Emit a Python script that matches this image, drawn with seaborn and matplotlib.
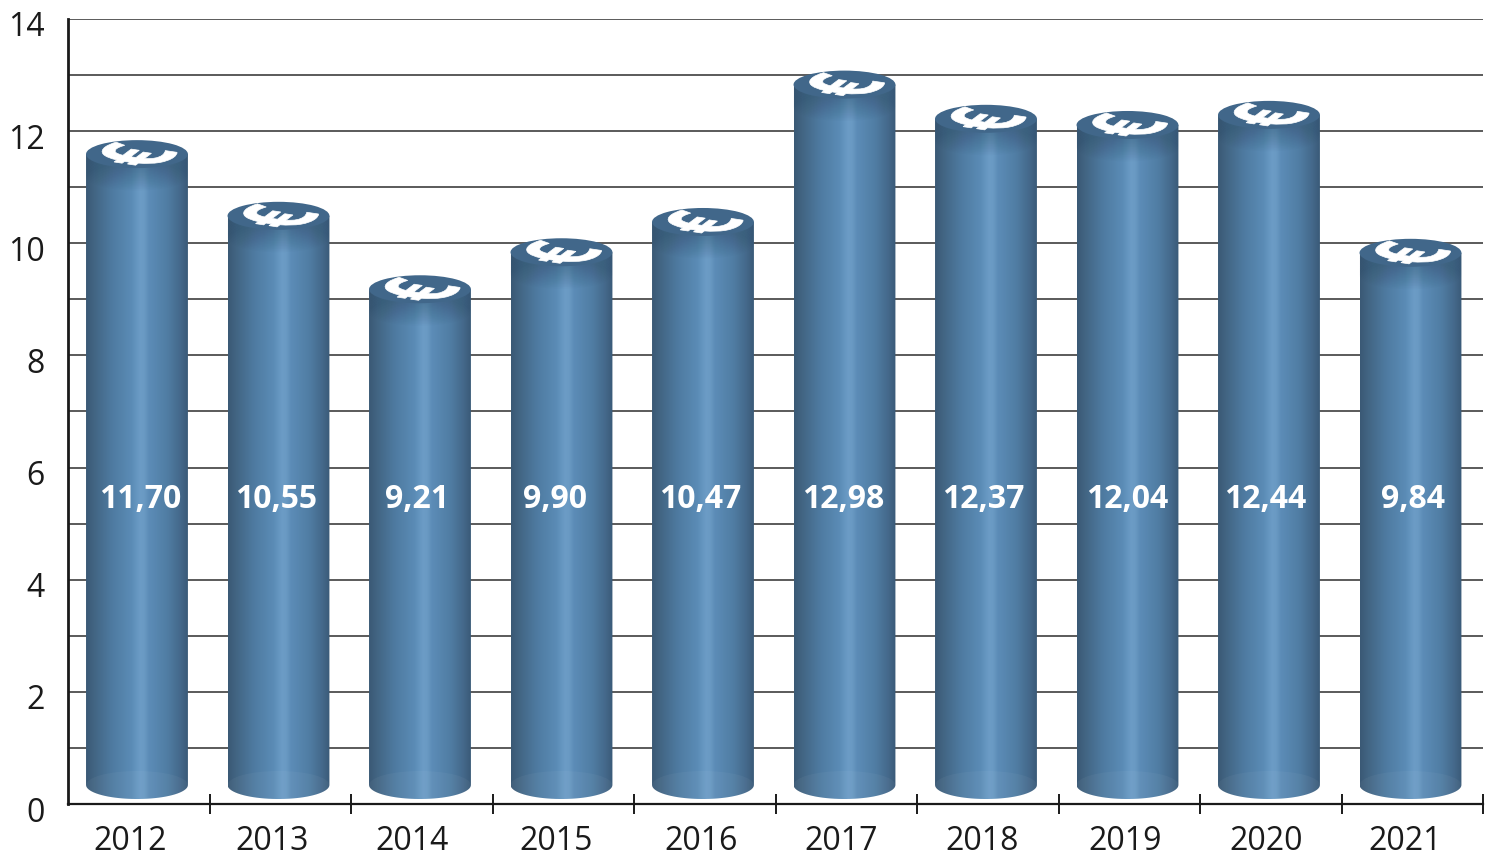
import numpy as np
import pandas as pd
import seaborn as sns
import matplotlib
matplotlib.use("Agg")
import matplotlib.pyplot as plt
from matplotlib.colors import LinearSegmentedColormap
from matplotlib.patches import Ellipse, PathPatch
from matplotlib.path import Path
from matplotlib.textpath import TextPath
from matplotlib.font_manager import FontProperties
from matplotlib.transforms import Affine2D, ScaledTranslation

years = ["2012", "2013", "2014", "2015", "2016", "2017", "2018", "2019", "2020", "2021"]
# heights as drawn in the picture (they differ slightly from the printed labels)
values = [11.73, 10.63, 9.32, 9.98, 10.52, 12.97, 12.36, 12.25, 12.43, 9.97]
value_labels = ["11,70", "10,55", "9,21", "9,90", "10,47", "12,98", "12,37", "12,04", "12,44", "9,84"]
y_major = [0, 2, 4, 6, 8, 10, 12, 14]
y_minor = [1, 3, 5, 7, 9, 11, 13]

sns.set_theme(style="white")
plt.rcParams["font.family"] = ["Open Sans", "DejaVu Sans"]

W, H = 1500, 865
fig = plt.figure(figsize=(W / 100, H / 100), dpi=100, facecolor="white")
L, R, T, B = 68, 1483, 19, 804
ax = fig.add_axes([L / W, 1 - B / H, (R - L) / W, (B - T) / H])

df = pd.DataFrame({"year": years, "value": values})
sns.barplot(data=df, x="year", y="value", order=years, width=0.72, color="#5a8ab4",
            ax=ax, zorder=2, saturation=1)

px_x = 141.55
x0 = -(137 - L) / px_x
ax.set_xlim(x0, x0 + (R - L) / px_x)
ax.set_ylim(0, 14)
px_y = (B - T) / 14

cmap = LinearSegmentedColormap.from_list("cyl", [
    (0.00, "#3a5975"), (0.08, "#426583"), (0.25, "#4e7aa0"), (0.45, "#5b8cb6"),
    (0.53, "#6c9cc6"), (0.57, "#6a9ac3"), (0.62, "#5c8cb7"), (0.80, "#507da3"),
    (0.93, "#44688a"), (1.00, "#3a5a78")])
grad = np.linspace(0, 1, 256).reshape(1, -1)

ell_h = 28 / px_y
top_off = 0.14
base_c = 19 / px_y
euro_font = FontProperties(family="Open Sans", weight="bold")
glyph = TextPath((0, 0), "\u20ac", size=1, prop=euro_font)
gb = glyph.get_extents()
pre = Affine2D().translate(-(gb.x0 + gb.x1) / 2, -(gb.y0 + gb.y1) / 2).rotate_deg(66)
pe = pre.transform_path(glyph).get_extents()
euro_tf = pre + Affine2D().scale(75 / pe.width / px_x, 23 / pe.height / px_y)
label_nudge_px = [3, -2, -3, -6, -3, -1, -3, 0, -4, 3]
year_px = [130, 272, 412, 556, 701, 841, 982, 1125, 1267, 1406]

for i, p in enumerate(list(ax.patches)):
    xl, w, h = p.get_x(), p.get_width(), p.get_height()
    xc = xl + w / 2
    p.set_visible(False)
    top_c = h - top_off
    t = np.linspace(np.pi, 2 * np.pi, 40)
    xs = np.r_[xc + w / 2 * np.cos(t), xc + w / 2, xc - w / 2]
    ys = np.r_[base_c + ell_h / 2 * np.sin(t), top_c, top_c]
    outline = Path(np.c_[xs, ys])
    im = ax.imshow(grad, extent=[xl, xl + w, 0, top_c], aspect="auto", cmap=cmap,
                   vmin=0, vmax=1, zorder=2.1, interpolation="bilinear")
    im.set_clip_path(outline, ax.transData)
    ax.add_patch(Ellipse((xc, base_c), w, ell_h, fc="white", ec="none", alpha=0.04, zorder=2.2))
    # soft shadow under the lid
    for k in np.linspace(0.40, 0.03, 14):
        ax.add_patch(Ellipse((xc, top_c - k), w, ell_h, fc="#2b475f", ec="none", alpha=0.028, zorder=2.3))
    ax.add_patch(Ellipse((xc, top_c), w, ell_h, fc="#41678a", ec="none", zorder=2.5))
    # euro emblem lying on the lid
    tr = euro_tf + Affine2D().translate(xc + 1.5 / px_x - 3 / px_x, top_c - 1 / px_y)
    ax.add_patch(PathPatch(glyph, fc="white", ec="white", lw=0.5, zorder=2.6,
                           transform=tr + ax.transData))
    ax.text(i + label_nudge_px[i] / px_x, (B - 499.5) / px_y, value_labels[i], color="white",
            fontsize=23, fontweight="bold", ha="center", va="center", zorder=3)

ax.set_xlabel("")
ax.set_ylabel("")
ax.set_yticks(y_major, [str(v) for v in y_major])
ax.set_yticks(y_minor, minor=True)
ax.grid(False)
ax.grid(True, axis="y", which="both", color="#2e2e2e", linewidth=1.1, zorder=1)
ax.set_axisbelow(True)
ax.tick_params(axis="y", which="both", length=0, pad=17, labelsize=23, labelcolor="#1a1a1a")

bounds = np.arange(1, 11) + x0
ax.set_xticks(bounds, [""] * len(bounds))
ax.set_xticks([(v - 137) / px_x for v in year_px], years, minor=True)
ax.tick_params(axis="x", which="major", length=14, width=1.4, direction="inout", color="#1a1a1a", bottom=True)
ax.tick_params(axis="x", which="minor", length=0, pad=15, labelsize=23, labelcolor="#1a1a1a")

for s in ["top", "right"]:
    ax.spines[s].set_visible(False)
ax.spines["left"].set_color("#1a1a1a")
ax.spines["left"].set_linewidth(2.0)
ax.spines["bottom"].set_color("#1a1a1a")
ax.spines["bottom"].set_linewidth(1.6)

off = ScaledTranslation(0, -5 / 100, fig.dpi_scale_trans)
for lab in ax.get_yticklabels():
    lab.set_transform(lab.get_transform() + off)

fig.savefig("out.png", dpi=100, facecolor="white")
